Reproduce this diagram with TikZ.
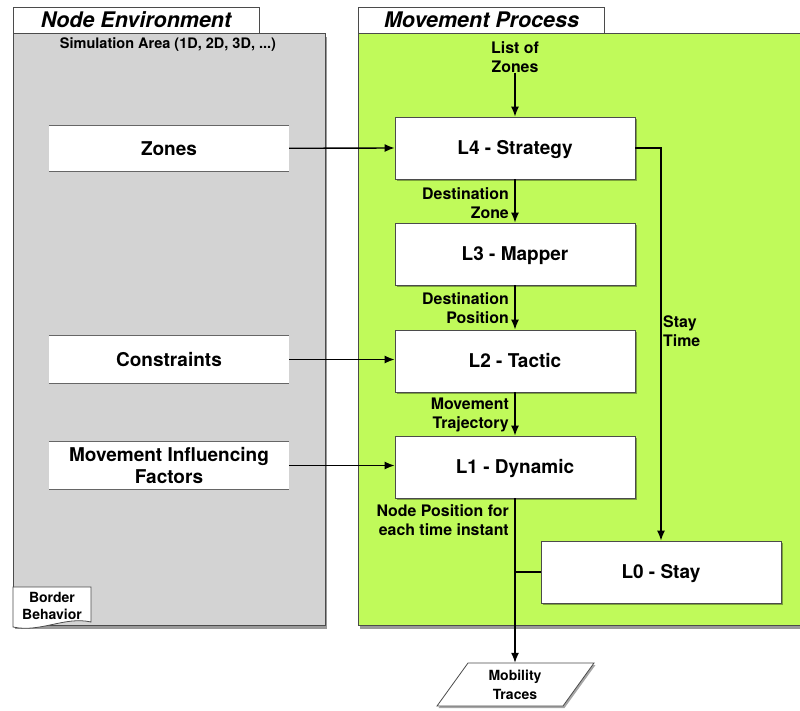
\documentclass[tikz,border=0pt]{standalone}
\usepackage{fontspec}
\setmainfont{TeX Gyre Heros}
\usetikzlibrary{shadows,arrows.meta}
\definecolor{panelgreen}{RGB}{192,250,90}
\definecolor{panelgray}{RGB}{211,211,211}
\definecolor{edgecol}{RGB}{75,75,75}
\begin{document}
\begin{tikzpicture}[x=1pt,y=-1pt,
  shad/.style={drop shadow={shadow xshift=2pt,shadow yshift=-4pt,opacity=0.4,fill=black}},
  smallshad/.style={drop shadow={shadow xshift=1.5pt,shadow yshift=-2pt,opacity=0.35,fill=black}},
  panel/.style={draw=edgecol,line width=0.8pt,shad},
  tab/.style={draw=edgecol,line width=0.8pt,fill=white,minimum width=246pt,minimum height=26pt,inner sep=0pt,font=\fontsize{21.5}{24}\selectfont\bfseries\itshape},
  lbox/.style={draw=edgecol,line width=0.8pt,fill=white,minimum width=240pt,minimum height=62pt,inner sep=0pt,text height=13.8pt,text depth=0pt,font=\fontsize{19}{22}\selectfont\bfseries,smallshad},
  envbox/.style={fill=white,minimum width=240pt,minimum height=46pt,inner sep=0pt,align=center,font=\fontsize{19}{22}\selectfont\bfseries},
  envline/.style={draw=gray!80!black,line width=1pt},
  lbl/.style={inner sep=0pt,font=\fontsize{15.9}{19}\selectfont\bfseries},
  arr/.style={line width=1.4pt,-{Latex[length=10pt,width=8pt]}},
  ln/.style={line width=1.4pt}]
\useasboundingbox (0,0) rectangle (800,711);

% panels
\path[panel,fill=panelgray] (13,33) rectangle (325,625);
\path[panel,fill=panelgreen] (358,33) rectangle (803,625);
\node[tab] (tne) at (136,20) {Node Environment};
\node[tab] (tmp) at (481.5,20) {Movement Process};

\node[lbl,font=\fontsize{14.5}{18}\selectfont\bfseries] (sim) at (168,45) {Simulation Area (1D, 2D, 3D, ...)};

% border behavior
\path[draw=edgecol,line width=0.8pt,fill=white] (13,587) -- (91,587) -- (91,622) .. controls (65,616) and (40,633) .. (13,627) -- cycle;
\node[lbl,align=center,font=\fontsize{14}{17}\selectfont\bfseries] (bb) at (52,606) {Border\\Behavior};

% environment boxes
\node[envbox,text height=13.8pt,text depth=0pt] (zones) at (169,148.3) {Zones};
\node[envbox,minimum height=47pt,text height=13.8pt,text depth=0pt] (cons) at (169,359.5) {Constraints};
\node[envbox,minimum height=47pt] (mif) at (169,465.5) {Movement Influencing\\Factors};
\foreach \n in {zones,cons,mif}{
  \draw[envline] (\n.north west) -- (\n.north east);
  \draw[envline] (\n.south west) -- (\n.south east);
}

% layer boxes
\node[lbox] (l4) at (515,148) {L4 - Strategy};
\node[lbox] (l3) at (515,254) {L3 - Mapper};
\node[lbox] (l2) at (515,361) {L2 - Tactic};
\node[lbox] (l1) at (515,467) {L1 - Dynamic};
\node[lbox] (l0) at (661,572) {L0 - Stay};

% mobility traces
\node[minimum height=43pt,minimum width=100pt,inner sep=0pt] (mt) at (515,684.5) {};
\path[draw=edgecol,line width=0.8pt,fill=white,smallshad] (468,663) -- (594,663) -- (563,706) -- (437,706) -- cycle;
\node[lbl,align=center,font=\fontsize{14}{19}\selectfont\bfseries] (mtt) at (mt) {Mobility\\Traces};

% labels
\node[lbl,align=center] (loz) at (515,57) {List of\\Zones};
\node[lbl,align=right,anchor=east] (dz) at (509,203.5) {Destination\\Zone};
\node[lbl,align=right,anchor=east] (dp) at (509,308.5) {Destination\\Position};
\node[lbl,align=right,anchor=east] (mtr) at (509,414.5) {Movement\\Trajectory};
\node[lbl,align=right,anchor=east] (np) at (509,520) {Node Position for\\each time instant};
\node[lbl,align=left,anchor=west] (st) at (663,331.5) {Stay\\Time};

% connectors
\draw[arr] (loz.south) -- (l4.north);
\draw[arr] (l4.south) -- (l3.north);
\draw[arr] (l3.south) -- (l2.north);
\draw[arr] (l2.south) -- (l1.north);
\draw[arr] (l1.south) -- (mt.north);
\draw[ln] (l0.west) -- (l0.west -| l1.south);
\draw[arr] (l4.east) -| (l0.north);
\draw[arr] (zones.east) -- (l4.west);
\draw[arr] (cons.east) -- (cons.east -| l2.west);
\draw[arr] (mif.east) -- (mif.east -| l1.west);
\end{tikzpicture}
\end{document}
